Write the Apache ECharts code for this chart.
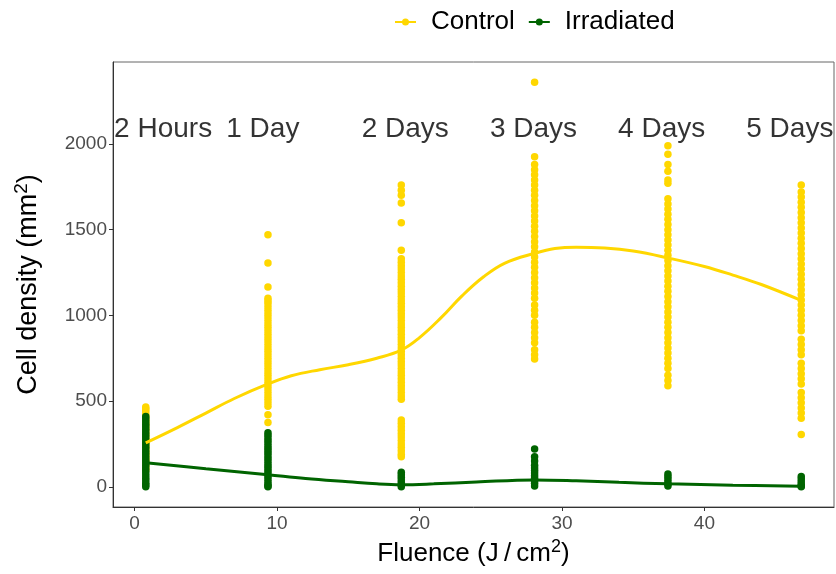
<!DOCTYPE html>
<html>
<head>
<meta charset="utf-8">
<script src="https://cdn.jsdelivr.net/npm/echarts@6/dist/echarts.min.js"></script>
<style>
html,body{margin:0;padding:0;background:#fff;}
#chart{width:836px;height:574px;}
</style>
</head>
<body>
<div id="chart"></div>
<script>
// Fluence (J/cm^2) at each time point
const timeLabels = ['2 Hours', '1 Day', '2 Days', '3 Days', '4 Days', '5 Days'];
const fluence = [0.78, 9.36, 18.72, 28.08, 37.44, 46.8];
const labelX = [2, 9, 19, 28, 37, 46];
const labelY = [2085, 2085, 2085, 2085, 2085, 2085];

// Cell densities (mm^2) per time point
const control2h = [465, 455, 445, 430, 415, 400, 385, 370, 355, 340, 325, 310, 295, 280, 265, 250, 235, 220, 205, 190, 175, 160, 145, 130, 115, 100];
const control1d = [1470, 1305, 1165, 1100, 1085, 1070, 1050, 1030, 1010, 990, 970, 950, 930, 910, 890, 870, 850, 830, 810, 790, 770, 750, 730, 710, 690, 670, 650, 630, 610, 590, 570, 550, 530, 510, 490, 470, 420, 375];
const control2d = [1760, 1730, 1700, 1655, 1540, 1380, 1330, 1310, 1290, 1270, 1250, 1230, 1210, 1190, 1170, 1150, 1130, 1110, 1090, 1070, 1050, 1030, 1010, 990, 970, 950, 930, 910, 890, 870, 850, 830, 810, 790, 770, 750, 730, 710, 690, 670, 650, 630, 610, 590, 570, 550, 530, 510, 390, 370, 350, 330, 310, 290, 270, 250, 230, 210, 190, 175];
const control3d = [2360, 1925, 1880, 1850, 1820, 1790, 1760, 1730, 1700, 1670, 1640, 1610, 1580, 1550, 1520, 1490, 1460, 1430, 1400, 1370, 1340, 1310, 1280, 1250, 1220, 1190, 1160, 1130, 1100, 1060, 1030, 1000, 960, 930, 900, 870, 840, 800, 770, 745];
const control4d = [1990, 1940, 1880, 1840, 1790, 1770, 1680, 1650, 1620, 1590, 1560, 1530, 1500, 1470, 1440, 1410, 1380, 1350, 1320, 1290, 1260, 1230, 1200, 1170, 1140, 1110, 1080, 1050, 1020, 990, 960, 930, 900, 870, 840, 810, 780, 750, 720, 690, 650, 620, 590];
const control5d = [1760, 1720, 1690, 1660, 1630, 1600, 1570, 1540, 1510, 1480, 1450, 1420, 1390, 1360, 1330, 1300, 1270, 1240, 1210, 1180, 1150, 1120, 1090, 1060, 1030, 1000, 970, 940, 910, 860, 830, 800, 770, 720, 690, 660, 630, 600, 550, 520, 490, 460, 430, 400, 305];

const irrad2h = [410, 395, 380, 365, 350, 335, 320, 305, 290, 275, 260, 245, 230, 215, 200, 185, 170, 155, 140, 125, 110, 95, 80, 65, 50, 35, 20, 10, 0];
const irrad1d = [315, 300, 285, 270, 255, 240, 225, 210, 195, 180, 165, 150, 135, 120, 105, 90, 75, 60, 45, 30, 15, 5, 0];
const irrad2d = [85, 70, 55, 40, 25, 10, 0];
const irrad3d = [220, 175, 150, 125, 110, 95, 80, 65, 50, 35, 20, 5];
const irrad4d = [75, 60, 45, 30, 15, 5];
const irrad5d = [60, 45, 30, 15, 5, 0];

// Smoothed trend curves
const controlCurveX = [0.78, 3, 5, 7, 9.36, 11, 13, 15, 17, 18.72, 20, 21.5, 23, 24.5, 26, 28.08, 29.5, 31, 33, 35, 37.44, 40, 42, 44, 46.8];
const controlCurveY = [256, 345, 430, 515, 600, 648, 683, 712, 750, 797, 870, 985, 1115, 1225, 1305, 1362, 1390, 1398, 1393, 1375, 1335, 1285, 1235, 1180, 1087];
const irradCurveX = [0.78, 5, 9.36, 12, 15, 17, 18.72, 21, 24, 28.08, 31, 34, 37.44, 42, 46.8];
const irradCurveY = [140, 105, 70, 48, 29, 17, 12, 17, 28, 40, 35, 26, 17, 9, 3];

const xTicks = [0, 10, 20, 30, 40];
const yTicks = [0, 500, 1000, 1500, 2000];

const controlGroups = [control2h, control1d, control2d, control3d, control4d, control5d];
const irradGroups = [irrad2h, irrad1d, irrad2d, irrad3d, irrad4d, irrad5d];

function toPoints(groups) {
  const out = [];
  groups.forEach((g, i) => g.forEach(v => out.push([fluence[i], v])));
  return out;
}
function zip(xs, ys) { return xs.map((x, i) => [x, ys[i]]); }

const YELLOW = '#FFD700';
const GREEN = '#006400';
const FONT = '"Liberation Sans", Arial, sans-serif';
const legendIcon = 'path://M0,3.1h21v1.8h-21z M7,4a3.5,3.5 0 1,1 7,0a3.5,3.5 0 1,1 -7,0z';

const chart = echarts.init(document.getElementById('chart'), null, {renderer: 'canvas'});
chart.setOption({
  animation: false,
  backgroundColor: '#fff',
  textStyle: {fontFamily: FONT},
  legend: {
    data: ['Control', 'Irradiated'],
    left: 390, top: 4,
    itemWidth: 21, itemHeight: 8, itemGap: 14,
    icon: legendIcon,
    textStyle: {fontSize: 26, color: '#000', fontFamily: FONT, padding: [0, 0, 0, 10]}
  },
  grid: {left: 113, right: 2, top: 62, bottom: 67, show: true, borderColor: '#666', borderWidth: 1, backgroundColor: 'transparent'},
  xAxis: {
    type: 'value', min: -1.52, max: 49.1,
    name: 'Fluence (J\u2009/\u2009cm{sup|2})',
    nameLocation: 'middle', nameGap: 30,
    nameTextStyle: {fontSize: 26, color: '#000', fontFamily: FONT,
      rich: {sup: {fontSize: 18, color: '#000', fontFamily: FONT, padding: [0, 0, 14, 0]}}},
    axisLine: {onZero: false, lineStyle: {color: '#333', width: 1}},
    axisTick: {length: 4, lineStyle: {color: '#333'}, customValues: xTicks},
    axisLabel: {fontSize: 19, color: '#4D4D4D', margin: 7, customValues: xTicks, formatter: v => String(v)},
    splitLine: {show: false}
  },
  yAxis: {
    type: 'value', min: -118, max: 2478,
    name: 'Cell density (mm{sup|2})',
    nameLocation: 'middle', nameGap: 68,
    nameTextStyle: {fontSize: 27, color: '#000', fontFamily: FONT,
      rich: {sup: {fontSize: 19, color: '#000', fontFamily: FONT, padding: [0, 0, 14, 0]}}},
    axisLine: {show: true, onZero: false, lineStyle: {color: '#333', width: 1}},
    axisTick: {show: true, length: 4, lineStyle: {color: '#333'}, customValues: yTicks},
    axisLabel: {fontSize: 19, color: '#4D4D4D', margin: 6, customValues: yTicks, formatter: v => String(v)},
    splitLine: {show: false}
  },
  series: [
    {name: 'Control', type: 'scatter', data: toPoints(controlGroups), symbolSize: 7.5,
     itemStyle: {color: YELLOW, opacity: 1}, z: 2},
    {name: 'Irradiated', type: 'scatter', data: toPoints(irradGroups), symbolSize: 7.5,
     itemStyle: {color: GREEN, opacity: 1}, z: 3},
    {name: 'Control', type: 'line', data: zip(controlCurveX, controlCurveY), smooth: 0.4,
     symbol: 'none', lineStyle: {color: YELLOW, width: 3}, itemStyle: {color: YELLOW}, z: 4},
    {name: 'Irradiated', type: 'line', data: zip(irradCurveX, irradCurveY), smooth: 0.4,
     symbol: 'none', lineStyle: {color: GREEN, width: 3}, itemStyle: {color: GREEN}, z: 5},
    {type: 'scatter', symbolSize: 0, silent: true, z: 6,
     data: timeLabels.map((t, i) => ({name: t, value: [labelX[i], labelY[i]]})),
     label: {show: true, position: 'inside', formatter: p => p.name, fontSize: 28, color: '#000', fontFamily: FONT}}
  ]
});
</script>
</body>
</html>
